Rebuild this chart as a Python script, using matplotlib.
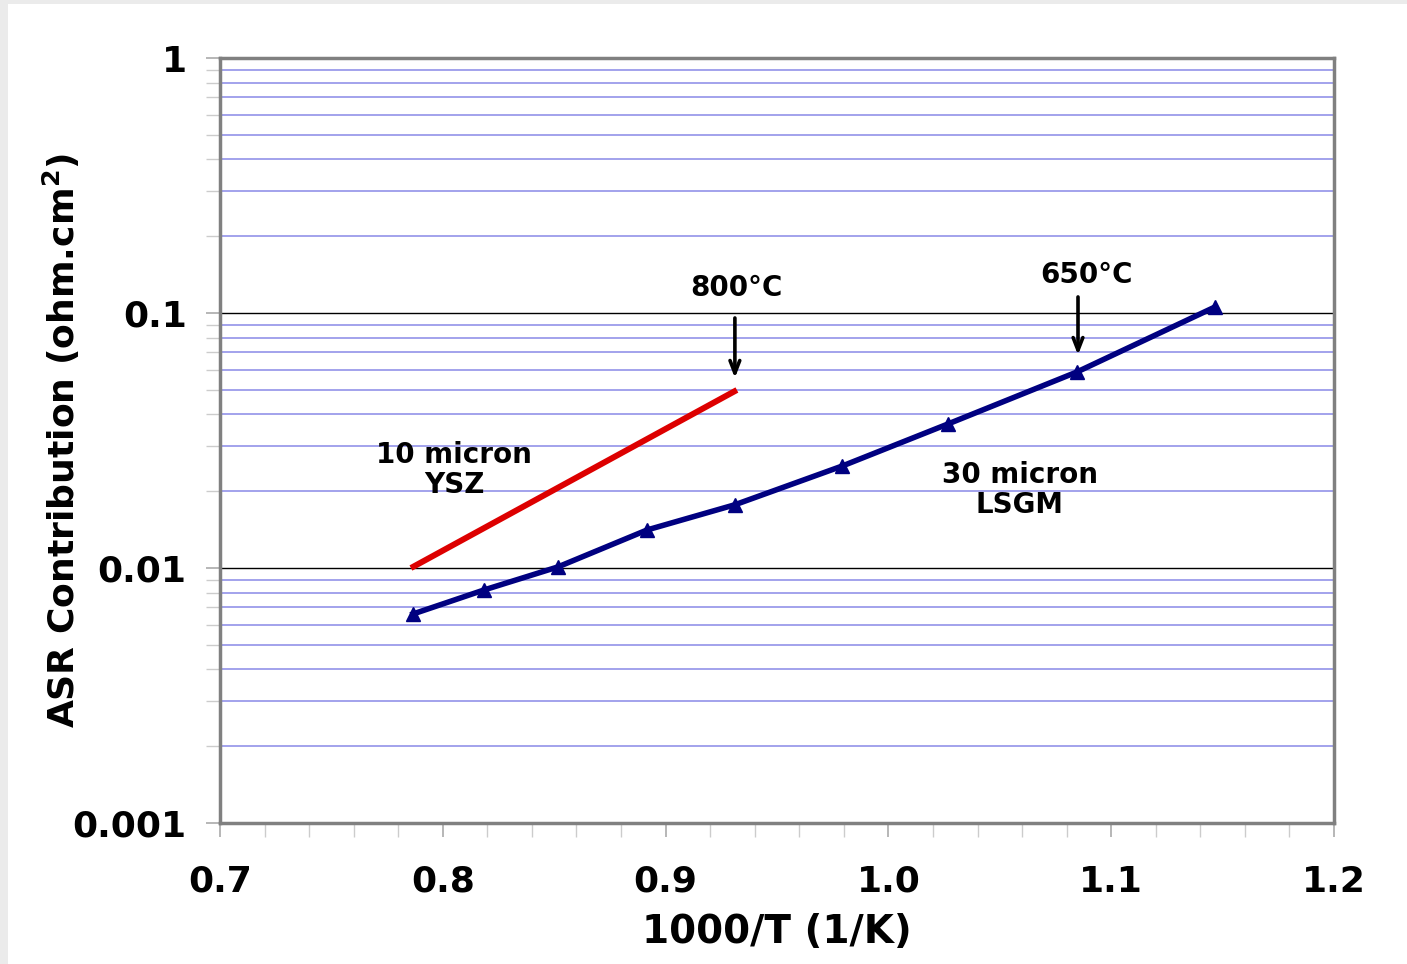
import numpy as np
import matplotlib.pyplot as plt
from matplotlib.patches import Rectangle
from matplotlib.ticker import LogLocator, FixedLocator, NullFormatter

# 30 micron LSGM
lsgm_x = [0.7866, 0.8185, 0.8517, 0.8917, 0.9311, 0.9792, 1.0267, 1.0846, 1.1466]
lsgm_y = [0.0066, 0.0082, 0.0101, 0.0141, 0.0177, 0.0251, 0.0367, 0.0587, 0.1056]

# 10 micron YSZ
ysz_x = [0.7857, 0.932]
ysz_y = [0.0100, 0.0499]

xticks = [0.7, 0.8, 0.9, 1.0, 1.1, 1.2]
xtick_labels = ['0.7', '0.8', '0.9', '1.0', '1.1', '1.2']
yticks = [0.001, 0.01, 0.1, 1]
ytick_labels = ['0.001', '0.01', '0.1', '1']

plt.rcParams['font.family'] = ['DejaVu Sans']
plt.rcParams['font.weight'] = 'bold'

fig = plt.figure(figsize=(14.07, 9.64), dpi=100, facecolor='#ebebeb')
fig.patches.append(Rectangle((8 / 1407, 0), 1, 1 - 4 / 964, transform=fig.transFigure,
                             facecolor='white', edgecolor='none', zorder=-10))
ax = fig.add_axes([220 / 1407, 1 - 823 / 964, 1114 / 1407, 765 / 964])
ax.set_zorder(5)

ax.set_yscale('log')
ax.set_xlim(0.7, 1.2)
ax.set_ylim(0.001, 1)

# grid: black major, blue minor
ax.yaxis.set_minor_locator(LogLocator(base=10, subs=np.arange(2, 10)))
ax.yaxis.set_minor_formatter(NullFormatter())
ax.grid(True, which='major', axis='y', color='black', lw=1.0, zorder=1)
ax.grid(True, which='minor', axis='y', color='#9b9bea', lw=1.3, zorder=1)

ax.set_xticks(xticks)
ax.set_xticklabels(xtick_labels)
ax.xaxis.set_minor_locator(FixedLocator(np.arange(0.7, 1.2001, 0.02)))
ax.set_yticks(yticks)
ax.set_yticklabels(ytick_labels)

ax.tick_params(axis='both', which='major', labelsize=26, direction='out', length=10,
               width=1.2, color='#aaaaaa', pad=14)
ax.tick_params(axis='both', which='minor', direction='out', length=10, width=1.0,
               color='#cccccc')
ax.tick_params(axis='x', which='major', pad=20)
for lab in ax.get_xticklabels() + ax.get_yticklabels():
    lab.set_fontweight('bold')

for s in ax.spines.values():
    s.set_color('#808080')
    s.set_linewidth(2.5)

ax.plot(ysz_x, ysz_y, color='#dd0000', lw=4.3, solid_capstyle='butt', zorder=3)
ax.plot(lsgm_x, lsgm_y, color='#000080', lw=4.0, marker='^', markersize=10, zorder=3)

arrow_style = dict(arrowstyle='->,head_length=0.9,head_width=0.35', color='black',
                   lw=2.6, shrinkA=0, shrinkB=0)
ax.annotate('', xy=(0.9311, 0.0556), xytext=(0.9311, 0.0956), arrowprops=arrow_style, zorder=4)
ax.annotate('', xy=(1.0851, 0.0684), xytext=(1.0851, 0.1156), arrowprops=arrow_style, zorder=4)

ax.text(0.9316, 0.125, '800°C', fontsize=20, fontweight='bold', ha='center', va='center')
ax.text(1.0887, 0.141, '650°C', fontsize=20, fontweight='bold', ha='center', va='center')
ax.text(0.805, 0.0242, '10 micron\nYSZ', fontsize=20, fontweight='bold', ha='center',
        va='center', linespacing=1.1)
ax.text(1.059, 0.0202, '30 micron\nLSGM', fontsize=20, fontweight='bold', ha='center',
        va='center', linespacing=1.1)

ax.set_xlabel('1000/T (1/K)', fontsize=28, fontweight='bold')
ax.xaxis.set_label_coords(0.5, -0.118)
ax.set_ylabel(r'ASR Contribution (ohm.cm$^{\mathbf{2}}$)', fontsize=26, fontweight='bold')
ax.yaxis.set_label_coords(-0.124, 0.5)

plt.savefig('out.png', dpi=100, facecolor=fig.get_facecolor())
